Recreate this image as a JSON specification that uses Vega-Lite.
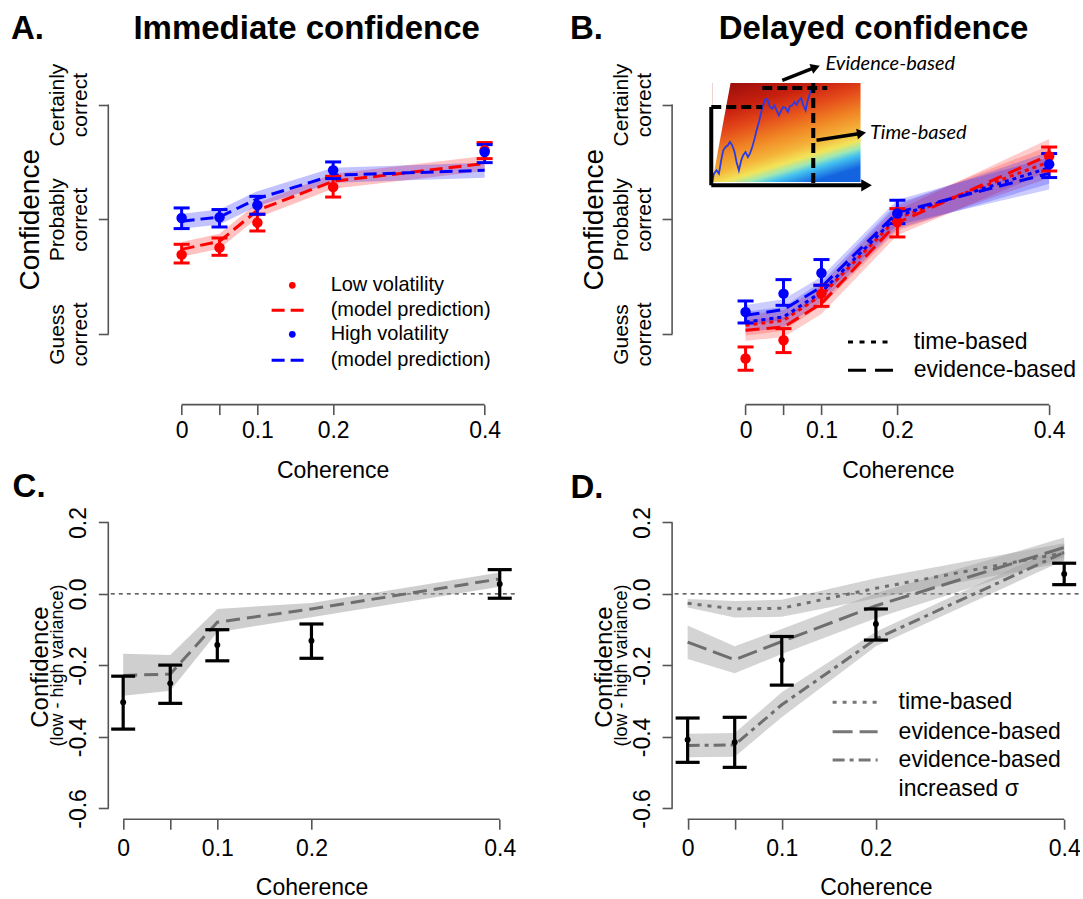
{
"$schema": "https://vega.github.io/schema/vega-lite/v6.json",
"padding": {"left": 10.3, "top": 13, "right": 0, "bottom": 0},
"background": "white",
"bounds": "flush",
"align": "each",
"columns": 2,
"spacing": {"row": 106, "column": 156.8},
"config": {
  "view": {"stroke": null},
  "font": "Liberation Sans",
  "axis": {"domain": false, "grid": false, "tickColor": "#555555", "tickWidth": 1.6, "tickSize": 10, "labelColor": "#000000", "titleColor": "#000000", "titleFontWeight": "normal", "labelOverlap": false, "labelFlush": false, "labelBound": false, "labelFont": "Liberation Sans", "titleFont": "Liberation Sans"},
  "text": {"font": "Liberation Sans", "color": "#000000"}
},
"datasets": {
  "one": [{"k": 1}],
  "ptsA": [
    {"coh": 0, "cond": "Low", "y": 1.692, "lo": 1.619, "hi": 1.782},
    {"coh": 0.05, "cond": "Low", "y": 1.753, "lo": 1.686, "hi": 1.837},
    {"coh": 0.1, "cond": "Low", "y": 1.971, "lo": 1.898, "hi": 2.044},
    {"coh": 0.2, "cond": "Low", "y": 2.282, "lo": 2.194, "hi": 2.375},
    {"coh": 0.4, "cond": "Low", "y": 2.602, "lo": 2.529, "hi": 2.669},
    {"coh": 0, "cond": "High", "y": 2.012, "lo": 1.919, "hi": 2.099},
    {"coh": 0.05, "cond": "High", "y": 2.017, "lo": 1.933, "hi": 2.085},
    {"coh": 0.1, "cond": "High", "y": 2.122, "lo": 2.044, "hi": 2.2},
    {"coh": 0.2, "cond": "High", "y": 2.427, "lo": 2.355, "hi": 2.5},
    {"coh": 0.4, "cond": "High", "y": 2.587, "lo": 2.494, "hi": 2.651}
  ],
  "modA": [
    {"coh": 0, "cond": "Low", "y": 1.738, "lo": 1.673, "hi": 1.803},
    {"coh": 0.05, "cond": "Low", "y": 1.808, "lo": 1.743, "hi": 1.873},
    {"coh": 0.1, "cond": "Low", "y": 2.078, "lo": 2.013, "hi": 2.143},
    {"coh": 0.2, "cond": "Low", "y": 2.331, "lo": 2.266, "hi": 2.396},
    {"coh": 0.4, "cond": "Low", "y": 2.486, "lo": 2.421, "hi": 2.551},
    {"coh": 0, "cond": "High", "y": 1.983, "lo": 1.918, "hi": 2.048},
    {"coh": 0.05, "cond": "High", "y": 2.02, "lo": 1.955, "hi": 2.085},
    {"coh": 0.1, "cond": "High", "y": 2.18, "lo": 2.115, "hi": 2.245},
    {"coh": 0.2, "cond": "High", "y": 2.384, "lo": 2.319, "hi": 2.449},
    {"coh": 0.4, "cond": "High", "y": 2.427, "lo": 2.362, "hi": 2.492}
  ],
  "ptsB": [
    {"coh": 0, "cond": "Low", "y": 0.786, "lo": 0.684, "hi": 0.887},
    {"coh": 0.05, "cond": "Low", "y": 0.945, "lo": 0.838, "hi": 1.047},
    {"coh": 0.1, "cond": "Low", "y": 1.352, "lo": 1.241, "hi": 1.425},
    {"coh": 0.2, "cond": "Low", "y": 1.976, "lo": 1.846, "hi": 2.093},
    {"coh": 0.4, "cond": "Low", "y": 2.549, "lo": 2.421, "hi": 2.63},
    {"coh": 0, "cond": "High", "y": 1.192, "lo": 1.096, "hi": 1.288},
    {"coh": 0.05, "cond": "High", "y": 1.352, "lo": 1.25, "hi": 1.474},
    {"coh": 0.1, "cond": "High", "y": 1.532, "lo": 1.425, "hi": 1.649},
    {"coh": 0.2, "cond": "High", "y": 2.05, "lo": 1.963, "hi": 2.166},
    {"coh": 0.4, "cond": "High", "y": 2.48, "lo": 2.364, "hi": 2.573}
  ],
  "modB": [
    {"coh": 0, "cond": "Low", "model": "evid", "y": 1.032, "lo": 0.942, "hi": 1.122},
    {"coh": 0.05, "cond": "Low", "model": "evid", "y": 1.061, "lo": 0.971, "hi": 1.151},
    {"coh": 0.1, "cond": "Low", "model": "evid", "y": 1.265, "lo": 1.175, "hi": 1.355},
    {"coh": 0.2, "cond": "Low", "model": "evid", "y": 1.97, "lo": 1.86, "hi": 2.08},
    {"coh": 0.4, "cond": "Low", "model": "evid", "y": 2.56, "lo": 2.42, "hi": 2.7},
    {"coh": 0, "cond": "Low", "model": "time", "y": 1.076, "lo": 0.986, "hi": 1.166},
    {"coh": 0.05, "cond": "Low", "model": "time", "y": 1.119, "lo": 1.029, "hi": 1.209},
    {"coh": 0.1, "cond": "Low", "model": "time", "y": 1.337, "lo": 1.247, "hi": 1.427},
    {"coh": 0.2, "cond": "Low", "model": "time", "y": 2.01, "lo": 1.9, "hi": 2.12},
    {"coh": 0.4, "cond": "Low", "model": "time", "y": 2.5, "lo": 2.36, "hi": 2.64},
    {"coh": 0, "cond": "High", "model": "time", "y": 1.105, "lo": 1.015, "hi": 1.195},
    {"coh": 0.05, "cond": "High", "model": "time", "y": 1.148, "lo": 1.058, "hi": 1.238},
    {"coh": 0.1, "cond": "High", "model": "time", "y": 1.366, "lo": 1.276, "hi": 1.456},
    {"coh": 0.2, "cond": "High", "model": "time", "y": 2.03, "lo": 1.92, "hi": 2.14},
    {"coh": 0.4, "cond": "High", "model": "time", "y": 2.45, "lo": 2.31, "hi": 2.59},
    {"coh": 0, "cond": "High", "model": "evid", "y": 1.163, "lo": 1.073, "hi": 1.253},
    {"coh": 0.05, "cond": "High", "model": "evid", "y": 1.213, "lo": 1.123, "hi": 1.303},
    {"coh": 0.1, "cond": "High", "model": "evid", "y": 1.41, "lo": 1.32, "hi": 1.5},
    {"coh": 0.2, "cond": "High", "model": "evid", "y": 2.06, "lo": 1.95, "hi": 2.17},
    {"coh": 0.4, "cond": "High", "model": "evid", "y": 2.4, "lo": 2.26, "hi": 2.54}
  ],
  "trace": [
    {"t": -0.0439, "v": 2.3255}, {"t": -0.0417, "v": 2.3982}, {"t": -0.0382, "v": 2.4272}, {"t": -0.0351, "v": 2.3982},
    {"t": -0.0321, "v": 2.5144}, {"t": -0.0294, "v": 2.6016}, {"t": -0.0264, "v": 2.6306}, {"t": -0.0233, "v": 2.6452},
    {"t": -0.0206, "v": 2.6742}, {"t": -0.0176, "v": 2.6452}, {"t": -0.0145, "v": 2.587}, {"t": -0.0119, "v": 2.4998},
    {"t": -0.0088, "v": 2.4272}, {"t": -0.0057, "v": 2.5144}, {"t": -0.0031, "v": 2.558}, {"t": 0.0, "v": 2.587},
    {"t": 0.0031, "v": 2.5434}, {"t": 0.0057, "v": 2.5725}, {"t": 0.0088, "v": 2.6306}, {"t": 0.0119, "v": 2.7033},
    {"t": 0.0145, "v": 2.7759}, {"t": 0.0176, "v": 2.8486}, {"t": 0.0206, "v": 2.9358}, {"t": 0.0233, "v": 2.9997},
    {"t": 0.0264, "v": 3.052}, {"t": 0.0294, "v": 3.0375}, {"t": 0.0321, "v": 2.9793}, {"t": 0.0351, "v": 2.9649},
    {"t": 0.0382, "v": 2.9939}, {"t": 0.0408, "v": 2.9503}, {"t": 0.0439, "v": 2.9067}, {"t": 0.047, "v": 2.9503},
    {"t": 0.0496, "v": 2.9793}, {"t": 0.0527, "v": 2.9706}, {"t": 0.0558, "v": 2.9358}, {"t": 0.0584, "v": 2.988},
    {"t": 0.0615, "v": 2.9939}, {"t": 0.0646, "v": 3.0229}, {"t": 0.0672, "v": 2.9997}, {"t": 0.0703, "v": 3.0375},
    {"t": 0.0733, "v": 3.0578}, {"t": 0.076, "v": 2.9939}, {"t": 0.0791, "v": 2.9503}, {"t": 0.0813, "v": 3.0229},
    {"t": 0.0834, "v": 3.0665}, {"t": 0.0865, "v": 3.145}
  ],
  "ptsC": [
    {"coh": 0, "y": -0.303, "lo": -0.378, "hi": -0.23},
    {"coh": 0.05, "y": -0.25, "lo": -0.306, "hi": -0.199},
    {"coh": 0.1, "y": -0.143, "lo": -0.187, "hi": -0.1},
    {"coh": 0.2, "y": -0.131, "lo": -0.18, "hi": -0.084},
    {"coh": 0.4, "y": 0.028, "lo": -0.012, "hi": 0.068}
  ],
  "modC": [
    {"coh": 0, "y": -0.228, "lo": -0.285, "hi": -0.167},
    {"coh": 0.05, "y": -0.224, "lo": -0.271, "hi": -0.171},
    {"coh": 0.1, "y": -0.079, "lo": -0.107, "hi": -0.042},
    {"coh": 0.2, "y": -0.042, "lo": -0.065, "hi": -0.025},
    {"coh": 0.4, "y": 0.042, "lo": 0.02, "hi": 0.06}
  ],
  "ptsD": [
    {"coh": 0, "y": -0.408, "lo": -0.471, "hi": -0.347},
    {"coh": 0.05, "y": -0.415, "lo": -0.485, "hi": -0.345},
    {"coh": 0.1, "y": -0.185, "lo": -0.255, "hi": -0.119},
    {"coh": 0.2, "y": -0.084, "lo": -0.129, "hi": -0.042},
    {"coh": 0.4, "y": 0.056, "lo": 0.026, "hi": 0.086}
  ],
  "modD": [
    {"coh": 0, "model": "time", "y": -0.026, "lo": -0.038, "hi": -0.014},
    {"coh": 0.05, "model": "time", "y": -0.042, "lo": -0.066, "hi": -0.02},
    {"coh": 0.1, "model": "time", "y": -0.04, "lo": -0.064, "hi": -0.016},
    {"coh": 0.2, "model": "time", "y": 0.016, "lo": -0.012, "hi": 0.044},
    {"coh": 0.4, "model": "time", "y": 0.115, "lo": 0.088, "hi": 0.142},
    {"coh": 0, "model": "evid", "y": -0.135, "lo": -0.182, "hi": -0.088},
    {"coh": 0.05, "model": "evid", "y": -0.184, "lo": -0.222, "hi": -0.146},
    {"coh": 0.1, "model": "evid", "y": -0.133, "lo": -0.168, "hi": -0.098},
    {"coh": 0.2, "model": "evid", "y": -0.033, "lo": -0.068, "hi": 0.002},
    {"coh": 0.4, "model": "evid", "y": 0.13, "lo": 0.102, "hi": 0.158},
    {"coh": 0, "model": "sigma", "y": -0.424, "lo": -0.457, "hi": -0.391},
    {"coh": 0.05, "model": "sigma", "y": -0.422, "lo": -0.455, "hi": -0.389},
    {"coh": 0.1, "model": "sigma", "y": -0.31, "lo": -0.345, "hi": -0.275},
    {"coh": 0.2, "model": "sigma", "y": -0.126, "lo": -0.146, "hi": -0.106},
    {"coh": 0.4, "model": "sigma", "y": 0.116, "lo": 0.094, "hi": 0.138}
  ]
},
"concat": [
{
  "width": 406.5, "height": 343.6,
  "layer": [
    {"data": {"name": "modA"}, "mark": {"type": "area", "opacity": 0.24},
     "encoding": {
       "x": {"field": "coh", "type": "quantitative", "scale": {"domain": [-0.0968, 0.4398], "nice": false, "zero": false},
             "axis": {"title": "Coherence", "values": [0, 0.05, 0.1, 0.2, 0.4], "labelExpr": "datum.value == 0.05 ? '' : (datum.value == 0 ? '0' : format(datum.value, '.1f'))", "labelAngle": 0, "labelFontSize": 23, "labelPadding": 5, "titleFontSize": 23, "titleAngle": 0, "titleAlign": "center", "titleBaseline": "alphabetic", "titleX": 224.3, "titleY": 72.5}},
       "y": {"field": "lo", "type": "quantitative", "stack": null, "scale": {"domain": [0.3845, 3.38], "nice": false, "zero": false},
             "axis": {"title": "Confidence", "values": [1, 2, 3], "labelExpr": "datum.value == 1 ? ['Guess','correct'] : (datum.value == 2 ? ['Probably','correct'] : ['Certainly','correct'])", "labelAngle": 270, "labelAlign": "center", "labelBaseline": "alphabetic", "labelFontSize": 21, "labelLineHeight": 23.5, "labelPadding": 35, "titleFontSize": 28, "titleAngle": 270, "titleAlign": "center", "titleBaseline": "alphabetic", "titleX": -69.8, "titleY": 158.3}},
       "y2": {"field": "hi"},
       "color": {"field": "cond", "type": "nominal", "scale": {"domain": ["Low", "High"], "range": ["#ff0000", "#0000ff"]}, "legend": null}}},
    {"data": {"name": "modA"}, "mark": {"type": "line", "strokeWidth": 3, "strokeDash": [13, 6]},
     "encoding": {"x": {"field": "coh", "type": "quantitative"}, "y": {"field": "y", "type": "quantitative"}, "color": {"field": "cond", "type": "nominal", "legend": null}}},
    {"data": {"name": "ptsA"}, "mark": {"type": "rule", "strokeWidth": 3},
     "encoding": {"x": {"field": "coh", "type": "quantitative"}, "y": {"field": "lo", "type": "quantitative"}, "y2": {"field": "hi"}, "color": {"field": "cond", "type": "nominal", "legend": null}}},
    {"data": {"name": "ptsA"}, "transform": [{"fold": ["lo", "hi"], "as": ["k", "v"]}], "mark": {"type": "tick", "orient": "horizontal", "size": 16, "thickness": 3, "opacity": 1},
     "encoding": {"x": {"field": "coh", "type": "quantitative"}, "y": {"field": "v", "type": "quantitative"}, "color": {"field": "cond", "type": "nominal", "legend": null}}},
    {"data": {"name": "ptsA"}, "mark": {"type": "point", "filled": true, "size": 110, "opacity": 1},
     "encoding": {"x": {"field": "coh", "type": "quantitative"}, "y": {"field": "y", "type": "quantitative"}, "color": {"field": "cond", "type": "nominal", "legend": null}}},
    {"data": {"name": "one"}, "mark": {"type": "rule", "color": "#555555", "strokeWidth": 1.6},
     "encoding": {"x": {"datum": -0.0968}, "y": {"datum": 1}, "y2": {"datum": 3}}},
    {"data": {"name": "one"}, "mark": {"type": "rule", "color": "#555555", "strokeWidth": 1.6},
     "encoding": {"x": {"datum": 0}, "x2": {"datum": 0.4}, "y": {"datum": 0.3845}}},
    {"data": {"name": "one"}, "mark": {"type": "text", "text": "A.", "fontSize": 33, "fontWeight": "bold", "align": "left", "baseline": "alphabetic"},
     "encoding": {"x": {"datum": -0.2253}, "y": {"datum": 3.5693}}},
    {"data": {"name": "one"}, "mark": {"type": "text", "text": "Immediate confidence", "fontSize": 33, "fontWeight": "bold", "align": "center", "baseline": "alphabetic"},
     "encoding": {"x": {"datum": 0.165}, "y": {"datum": 3.5693}}},
    {"data": {"name": "one"}, "mark": {"type": "point", "filled": true, "size": 45, "opacity": 1, "color": "#ff0000"},
     "encoding": {"x": {"datum": 0.1461}, "y": {"datum": 1.4246}}},
    {"data": {"name": "one"}, "mark": {"type": "rule", "color": "#ff0000", "strokeWidth": 3, "strokeDash": [13, 6]},
     "encoding": {"x": {"datum": 0.1188}, "x2": {"datum": 0.1611}, "y": {"datum": 1.2066}}},
    {"data": {"name": "one"}, "mark": {"type": "point", "filled": true, "size": 45, "opacity": 1, "color": "#0000ff"},
     "encoding": {"x": {"datum": 0.1461}, "y": {"datum": 0.9974}}},
    {"data": {"name": "one"}, "mark": {"type": "rule", "color": "#0000ff", "strokeWidth": 3, "strokeDash": [13, 6]},
     "encoding": {"x": {"datum": 0.1188}, "x2": {"datum": 0.1611}, "y": {"datum": 0.7707}}},
    {"data": {"name": "one"}, "mark": {"type": "text", "text": "Low volatility", "fontSize": 20, "align": "left", "baseline": "middle"},
     "encoding": {"x": {"datum": 0.1967}, "y": {"datum": 1.4246}}},
    {"data": {"name": "one"}, "mark": {"type": "text", "text": "(model prediction)", "fontSize": 20, "align": "left", "baseline": "middle"},
     "encoding": {"x": {"datum": 0.1967}, "y": {"datum": 1.2066}}},
    {"data": {"name": "one"}, "mark": {"type": "text", "text": "High volatility", "fontSize": 20, "align": "left", "baseline": "middle"},
     "encoding": {"x": {"datum": 0.1967}, "y": {"datum": 0.9974}}},
    {"data": {"name": "one"}, "mark": {"type": "text", "text": "(model prediction)", "fontSize": 20, "align": "left", "baseline": "middle"},
     "encoding": {"x": {"datum": 0.1967}, "y": {"datum": 0.7707}}}
  ]
},
{
  "width": 406.5, "height": 343.6,
  "layer": [
    {"data": {"name": "modB"}, "mark": {"type": "area", "opacity": 0.2},
     "encoding": {
       "x": {"field": "coh", "type": "quantitative", "scale": {"domain": [-0.0968, 0.4388], "nice": false, "zero": false},
             "axis": {"title": "Coherence", "values": [0, 0.05, 0.1, 0.2, 0.4], "labelExpr": "datum.value == 0.05 ? '' : (datum.value == 0 ? '0' : format(datum.value, '.1f'))", "labelAngle": 0, "labelFontSize": 23, "labelPadding": 5, "titleFontSize": 23, "titleAngle": 0, "titleAlign": "center", "titleBaseline": "alphabetic", "titleX": 225.8, "titleY": 72.5}},
       "y": {"field": "lo", "type": "quantitative", "stack": null, "scale": {"domain": [0.3845, 3.38], "nice": false, "zero": false},
             "axis": {"title": "Confidence", "values": [1, 2, 3], "labelExpr": "datum.value == 1 ? ['Guess','correct'] : (datum.value == 2 ? ['Probably','correct'] : ['Certainly','correct'])", "labelAngle": 270, "labelAlign": "center", "labelBaseline": "alphabetic", "labelFontSize": 21, "labelLineHeight": 23.5, "labelPadding": 35, "titleFontSize": 28, "titleAngle": 270, "titleAlign": "center", "titleBaseline": "alphabetic", "titleX": -69.8, "titleY": 158.3}},
       "y2": {"field": "hi"},
       "color": {"field": "cond", "type": "nominal", "scale": {"domain": ["Low", "High"], "range": ["#ff0000", "#0000ff"]}, "legend": null},
       "detail": {"field": "model", "type": "nominal"}}},
    {"data": {"name": "modB"}, "transform": [{"filter": {"field": "model", "equal": "time"}}], "mark": {"type": "line", "strokeWidth": 3, "strokeDash": [4, 4]},
     "encoding": {"x": {"field": "coh", "type": "quantitative"}, "y": {"field": "y", "type": "quantitative"}, "color": {"field": "cond", "type": "nominal", "legend": null}}},
    {"data": {"name": "modB"}, "transform": [{"filter": {"field": "model", "equal": "evid"}}], "mark": {"type": "line", "strokeWidth": 3, "strokeDash": [14, 7]},
     "encoding": {"x": {"field": "coh", "type": "quantitative"}, "y": {"field": "y", "type": "quantitative"}, "color": {"field": "cond", "type": "nominal", "legend": null}}},
    {"data": {"name": "ptsB"}, "mark": {"type": "rule", "strokeWidth": 3},
     "encoding": {"x": {"field": "coh", "type": "quantitative"}, "y": {"field": "lo", "type": "quantitative"}, "y2": {"field": "hi"}, "color": {"field": "cond", "type": "nominal", "legend": null}}},
    {"data": {"name": "ptsB"}, "transform": [{"fold": ["lo", "hi"], "as": ["k", "v"]}], "mark": {"type": "tick", "orient": "horizontal", "size": 16, "thickness": 3, "opacity": 1},
     "encoding": {"x": {"field": "coh", "type": "quantitative"}, "y": {"field": "v", "type": "quantitative"}, "color": {"field": "cond", "type": "nominal", "legend": null}}},
    {"data": {"name": "ptsB"}, "mark": {"type": "point", "filled": true, "size": 110, "opacity": 1},
     "encoding": {"x": {"field": "coh", "type": "quantitative"}, "y": {"field": "y", "type": "quantitative"}, "color": {"field": "cond", "type": "nominal", "legend": null}}},
    {"data": {"name": "one"}, "mark": {"type": "rule", "color": "#555555", "strokeWidth": 1.6},
     "encoding": {"x": {"datum": -0.0968}, "y": {"datum": 1}, "y2": {"datum": 3}}},
    {"data": {"name": "one"}, "mark": {"type": "rule", "color": "#555555", "strokeWidth": 1.6},
     "encoding": {"x": {"datum": 0}, "x2": {"datum": 0.4}, "y": {"datum": 0.3845}}},
    {"data": {"name": "one"}, "mark": {"type": "text", "text": "B.", "fontSize": 33, "fontWeight": "bold", "align": "left", "baseline": "alphabetic"},
     "encoding": {"x": {"datum": -0.2314}, "y": {"datum": 3.5693}}},
    {"data": {"name": "one"}, "mark": {"type": "text", "text": "Delayed confidence", "fontSize": 33, "fontWeight": "bold", "align": "center", "baseline": "alphabetic"},
     "encoding": {"x": {"datum": 0.1686}, "y": {"datum": 3.5693}}},
    {"data": {"name": "one"}, "mark": {"type": "rect", "fill": {"gradient": "linear", "x1": 0, "y1": 0, "x2": 0.497, "y2": 1.081, "stops": [{"offset": 0, "color": "#930b0b"}, {"offset": 0.25, "color": "#c8200f"}, {"offset": 0.4, "color": "#e4481a"}, {"offset": 0.56, "color": "#f08424"}, {"offset": 0.7, "color": "#f4b43a"}, {"offset": 0.79, "color": "#f2e45a"}, {"offset": 0.85, "color": "#9ee8b4"}, {"offset": 0.9, "color": "#44c2f0"}, {"offset": 1, "color": "#1464e0"}]}},
     "encoding": {"x": {"datum": -0.0439}, "x2": {"datum": 0.1515}, "y": {"datum": 3.1883}, "y2": {"datum": 2.3252}}},
    {"data": {"name": "one"}, "mark": {"type": "point", "shape": "M-1,-1L-0.63,-1L-1,1Z", "size": 9801, "filled": true, "color": "#ffffff", "opacity": 1, "strokeWidth": 0},
     "encoding": {"x": {"datum": 0.0213}, "y": {"datum": 2.7567}}},
    {"data": {"name": "trace"}, "mark": {"type": "line", "color": "#2a3be6", "strokeWidth": 1.8},
     "encoding": {"x": {"field": "t", "type": "quantitative"}, "y": {"field": "v", "type": "quantitative"}}},
    {"data": {"name": "one"}, "mark": {"type": "rule", "color": "#000000", "strokeWidth": 4},
     "encoding": {"x": {"datum": -0.0452}, "y": {"datum": 2.979}, "y2": {"datum": 2.2964}}},
    {"data": {"name": "one"}, "mark": {"type": "rule", "color": "#000000", "strokeWidth": 4},
     "encoding": {"x": {"datum": -0.0452}, "x2": {"datum": 0.1541}, "y": {"datum": 2.2964}}},
    {"data": {"name": "one"}, "mark": {"type": "point", "shape": "triangle-right", "size": 150, "filled": true, "color": "#000000", "opacity": 1},
     "encoding": {"x": {"datum": 0.1594}, "y": {"datum": 2.2964}}},
    {"data": {"name": "one"}, "mark": {"type": "rule", "color": "#000000", "strokeWidth": 4, "strokeDash": [10, 5]},
     "encoding": {"x": {"datum": -0.0452}, "x2": {"datum": 0.022}, "y": {"datum": 2.979}}},
    {"data": {"name": "one"}, "mark": {"type": "rule", "color": "#000000", "strokeWidth": 4, "strokeDash": [10, 5]},
     "encoding": {"x": {"datum": 0.022}, "x2": {"datum": 0.1076}, "y": {"datum": 3.1447}}},
    {"data": {"name": "one"}, "mark": {"type": "rule", "color": "#000000", "strokeWidth": 4, "strokeDash": [10, 5]},
     "encoding": {"x": {"datum": 0.0892}, "y": {"datum": 3.1883}, "y2": {"datum": 2.2964}}},
    {"data": {"name": "one"}, "mark": {"type": "rule", "color": "#000000", "strokeWidth": 3.5},
     "encoding": {"x": {"datum": 0.0484}, "x2": {"datum": 0.0883}, "y": {"datum": 3.2119}, "y2": {"datum": 3.3165}}},
    {"data": {"name": "one"}, "mark": {"type": "point", "shape": "triangle-right", "size": 110, "angle": 339, "filled": true, "color": "#000000", "opacity": 1},
     "encoding": {"x": {"datum": 0.0922}, "y": {"datum": 3.3252}}},
    {"data": {"name": "one"}, "mark": {"type": "rule", "color": "#000000", "strokeWidth": 3.5},
     "encoding": {"x": {"datum": 0.0935}, "x2": {"datum": 0.1489}, "y": {"datum": 2.6888}, "y2": {"datum": 2.7463}}},
    {"data": {"name": "one"}, "mark": {"type": "point", "shape": "triangle-right", "size": 110, "angle": 351, "filled": true, "color": "#000000", "opacity": 1},
     "encoding": {"x": {"datum": 0.1528}, "y": {"datum": 2.7498}}},
    {"data": {"name": "one"}, "mark": {"type": "text", "text": "Evidence-based", "font": "Lato", "fontStyle": "italic", "fontSize": 20, "align": "left", "baseline": "alphabetic"},
     "encoding": {"x": {"datum": 0.1054}, "y": {"datum": 3.299}}},
    {"data": {"name": "one"}, "mark": {"type": "text", "text": "Time-based", "font": "Lato", "fontStyle": "italic", "fontSize": 20, "align": "left", "baseline": "alphabetic"},
     "encoding": {"x": {"datum": 0.1638}, "y": {"datum": 2.7036}}},
    {"data": {"name": "one"}, "mark": {"type": "rule", "color": "#000000", "strokeWidth": 3, "strokeDash": [5, 6.5]},
     "encoding": {"x": {"datum": 0.135}, "x2": {"datum": 0.1943}, "y": {"datum": 0.9303}}},
    {"data": {"name": "one"}, "mark": {"type": "rule", "color": "#000000", "strokeWidth": 3, "strokeDash": [18, 9]},
     "encoding": {"x": {"datum": 0.135}, "x2": {"datum": 0.1943}, "y": {"datum": 0.6835}}},
    {"data": {"name": "one"}, "mark": {"type": "text", "text": "time-based", "fontSize": 23, "align": "left", "baseline": "middle"},
     "encoding": {"x": {"datum": 0.2217}, "y": {"datum": 0.9303}}},
    {"data": {"name": "one"}, "mark": {"type": "text", "text": "evidence-based", "fontSize": 23, "align": "left", "baseline": "middle"},
     "encoding": {"x": {"datum": 0.2217}, "y": {"datum": 0.6835}}}
  ]
},
{
  "width": 406.5, "height": 308.2,
  "layer": [
    {"data": {"name": "one"}, "mark": {"type": "rule", "color": "#333333", "strokeWidth": 1.2, "strokeDash": [4, 4]},
     "encoding": {"y": {"datum": 0, "type": "quantitative", "scale": {"domain": [-0.63, 0.232], "nice": false, "zero": false},
             "axis": {"title": "Confidence", "values": [-0.6, -0.4, -0.2, 0, 0.2], "labelExpr": "datum.value == 0 ? '0.0' : (datum.value < 0 ? '-' + format(-datum.value, '.1f') : format(datum.value, '.1f'))", "labelAngle": 270, "labelAlign": "center", "labelBaseline": "alphabetic", "labelFontSize": 23, "labelPadding": 13, "titleFontSize": 24, "titleAngle": 270, "titleAlign": "center", "titleBaseline": "alphabetic", "titleX": -61, "titleY": 155.6}}}},
    {"data": {"name": "modC"}, "mark": {"type": "area", "color": "#a0a0a0", "opacity": 0.5},
     "encoding": {
       "x": {"field": "coh", "type": "quantitative", "scale": {"domain": [-0.0158, 0.416], "nice": false, "zero": false},
             "axis": {"title": "Coherence", "values": [0, 0.05, 0.1, 0.2, 0.4], "labelExpr": "datum.value == 0.05 ? '' : (datum.value == 0 ? '0' : format(datum.value, '.1f'))", "labelAngle": 0, "labelFontSize": 23, "labelPadding": 8, "titleFontSize": 23, "titleAngle": 0, "titleAlign": "center", "titleBaseline": "alphabetic", "titleX": 203.2, "titleY": 75}},
       "y": {"field": "lo", "type": "quantitative", "stack": null},
       "y2": {"field": "hi"}}},
    {"data": {"name": "modC"}, "mark": {"type": "line", "color": "#6e6e6e", "strokeWidth": 3, "strokeDash": [14, 7]},
     "encoding": {"x": {"field": "coh", "type": "quantitative"}, "y": {"field": "y", "type": "quantitative"}}},
    {"data": {"name": "ptsC"}, "mark": {"type": "rule", "color": "#000000", "strokeWidth": 3.2},
     "encoding": {"x": {"field": "coh", "type": "quantitative"}, "y": {"field": "lo", "type": "quantitative"}, "y2": {"field": "hi"}}},
    {"data": {"name": "ptsC"}, "transform": [{"fold": ["lo", "hi"], "as": ["k", "v"]}], "mark": {"type": "tick", "orient": "horizontal", "size": 24, "thickness": 3.2, "color": "#000000", "opacity": 1},
     "encoding": {"x": {"field": "coh", "type": "quantitative"}, "y": {"field": "v", "type": "quantitative"}}},
    {"data": {"name": "ptsC"}, "mark": {"type": "point", "filled": true, "size": 35, "color": "#000000", "opacity": 1},
     "encoding": {"x": {"field": "coh", "type": "quantitative"}, "y": {"field": "y", "type": "quantitative"}}},
    {"data": {"name": "one"}, "mark": {"type": "rule", "color": "#555555", "strokeWidth": 1.6},
     "encoding": {"x": {"datum": -0.0158}, "y": {"datum": -0.6}, "y2": {"datum": 0.2}}},
    {"data": {"name": "one"}, "mark": {"type": "rule", "color": "#555555", "strokeWidth": 1.6},
     "encoding": {"x": {"datum": 0}, "x2": {"datum": 0.4}, "y": {"datum": -0.63}}},
    {"data": {"name": "one"}, "mark": {"type": "text", "text": "C.", "fontSize": 33, "fontWeight": "bold", "align": "left", "baseline": "alphabetic"},
     "encoding": {"x": {"datum": -0.1175}, "y": {"datum": 0.2708}}},
    {"data": {"name": "one"}, "mark": {"type": "text", "text": "(low - high variance)", "fontSize": 18, "angle": 270, "align": "center", "baseline": "alphabetic"},
     "encoding": {"x": {"datum": -0.0642}, "y": {"datum": -0.2}}}
  ]
},
{
  "width": 406.5, "height": 308.2,
  "layer": [
    {"data": {"name": "one"}, "mark": {"type": "rule", "color": "#333333", "strokeWidth": 1.2, "strokeDash": [4, 4]},
     "encoding": {"y": {"datum": 0, "type": "quantitative", "scale": {"domain": [-0.63, 0.232], "nice": false, "zero": false},
             "axis": {"title": "Confidence", "values": [-0.6, -0.4, -0.2, 0, 0.2], "labelExpr": "datum.value == 0 ? '0.0' : (datum.value < 0 ? '-' + format(-datum.value, '.1f') : format(datum.value, '.1f'))", "labelAngle": 270, "labelAlign": "center", "labelBaseline": "alphabetic", "labelFontSize": 23, "labelPadding": 13, "titleFontSize": 24, "titleAngle": 270, "titleAlign": "center", "titleBaseline": "alphabetic", "titleX": -61, "titleY": 155.6}}}},
    {"data": {"name": "modD"}, "mark": {"type": "area", "color": "#a0a0a0", "opacity": 0.45},
     "encoding": {
       "x": {"field": "coh", "type": "quantitative", "scale": {"domain": [-0.0165, 0.4153], "nice": false, "zero": false},
             "axis": {"title": "Coherence", "values": [0, 0.05, 0.1, 0.2, 0.4], "labelExpr": "datum.value == 0.05 ? '' : (datum.value == 0 ? '0' : format(datum.value, '.1f'))", "labelAngle": 0, "labelFontSize": 23, "labelPadding": 8, "titleFontSize": 23, "titleAngle": 0, "titleAlign": "center", "titleBaseline": "alphabetic", "titleX": 203.8, "titleY": 75}},
       "y": {"field": "lo", "type": "quantitative", "stack": null},
       "y2": {"field": "hi"},
       "detail": {"field": "model", "type": "nominal"}}},
    {"data": {"name": "modD"}, "transform": [{"filter": {"field": "model", "equal": "time"}}], "mark": {"type": "line", "color": "#6e6e6e", "strokeWidth": 3, "strokeDash": [4, 6]},
     "encoding": {"x": {"field": "coh", "type": "quantitative"}, "y": {"field": "y", "type": "quantitative"}}},
    {"data": {"name": "modD"}, "transform": [{"filter": {"field": "model", "equal": "evid"}}], "mark": {"type": "line", "color": "#6e6e6e", "strokeWidth": 3, "strokeDash": [20, 7]},
     "encoding": {"x": {"field": "coh", "type": "quantitative"}, "y": {"field": "y", "type": "quantitative"}}},
    {"data": {"name": "modD"}, "transform": [{"filter": {"field": "model", "equal": "sigma"}}], "mark": {"type": "line", "color": "#6e6e6e", "strokeWidth": 3, "strokeDash": [12, 5, 4, 5]},
     "encoding": {"x": {"field": "coh", "type": "quantitative"}, "y": {"field": "y", "type": "quantitative"}}},
    {"data": {"name": "ptsD"}, "mark": {"type": "rule", "color": "#000000", "strokeWidth": 3.2},
     "encoding": {"x": {"field": "coh", "type": "quantitative"}, "y": {"field": "lo", "type": "quantitative"}, "y2": {"field": "hi"}}},
    {"data": {"name": "ptsD"}, "transform": [{"fold": ["lo", "hi"], "as": ["k", "v"]}], "mark": {"type": "tick", "orient": "horizontal", "size": 24, "thickness": 3.2, "color": "#000000", "opacity": 1},
     "encoding": {"x": {"field": "coh", "type": "quantitative"}, "y": {"field": "v", "type": "quantitative"}}},
    {"data": {"name": "ptsD"}, "mark": {"type": "point", "filled": true, "size": 35, "color": "#000000", "opacity": 1},
     "encoding": {"x": {"field": "coh", "type": "quantitative"}, "y": {"field": "y", "type": "quantitative"}}},
    {"data": {"name": "one"}, "mark": {"type": "rule", "color": "#555555", "strokeWidth": 1.6},
     "encoding": {"x": {"datum": -0.0165}, "y": {"datum": -0.6}, "y2": {"datum": 0.2}}},
    {"data": {"name": "one"}, "mark": {"type": "rule", "color": "#555555", "strokeWidth": 1.6},
     "encoding": {"x": {"datum": 0}, "x2": {"datum": 0.4}, "y": {"datum": -0.63}}},
    {"data": {"name": "one"}, "mark": {"type": "text", "text": "D.", "fontSize": 33, "fontWeight": "bold", "align": "left", "baseline": "alphabetic"},
     "encoding": {"x": {"datum": -0.1244}, "y": {"datum": 0.2694}}},
    {"data": {"name": "one"}, "mark": {"type": "text", "text": "(low - high variance)", "fontSize": 18, "angle": 270, "align": "center", "baseline": "alphabetic"},
     "encoding": {"x": {"datum": -0.0648}, "y": {"datum": -0.2}}},
    {"data": {"name": "one"}, "mark": {"type": "rule", "color": "#777777", "strokeWidth": 3, "strokeDash": [4, 6]},
     "encoding": {"x": {"datum": 0.154}, "x2": {"datum": 0.2018}, "y": {"datum": -0.3032}}},
    {"data": {"name": "one"}, "mark": {"type": "rule", "color": "#777777", "strokeWidth": 3, "strokeDash": [20, 7]},
     "encoding": {"x": {"datum": 0.154}, "x2": {"datum": 0.2018}, "y": {"datum": -0.3852}}},
    {"data": {"name": "one"}, "mark": {"type": "rule", "color": "#777777", "strokeWidth": 3, "strokeDash": [12, 5, 4, 5]},
     "encoding": {"x": {"datum": 0.154}, "x2": {"datum": 0.2018}, "y": {"datum": -0.4643}}},
    {"data": {"name": "one"}, "mark": {"type": "text", "text": "time-based", "fontSize": 23, "align": "left", "baseline": "middle"},
     "encoding": {"x": {"datum": 0.2241}, "y": {"datum": -0.3032}}},
    {"data": {"name": "one"}, "mark": {"type": "text", "text": "evidence-based", "fontSize": 23, "align": "left", "baseline": "middle"},
     "encoding": {"x": {"datum": 0.2241}, "y": {"datum": -0.3852}}},
    {"data": {"name": "one"}, "mark": {"type": "text", "text": "evidence-based", "fontSize": 23, "align": "left", "baseline": "middle"},
     "encoding": {"x": {"datum": 0.2241}, "y": {"datum": -0.4643}}},
    {"data": {"name": "one"}, "mark": {"type": "text", "text": "increased σ", "fontSize": 23, "align": "left", "baseline": "middle"},
     "encoding": {"x": {"datum": 0.2241}, "y": {"datum": -0.5455}}}
  ]
}
]
}
